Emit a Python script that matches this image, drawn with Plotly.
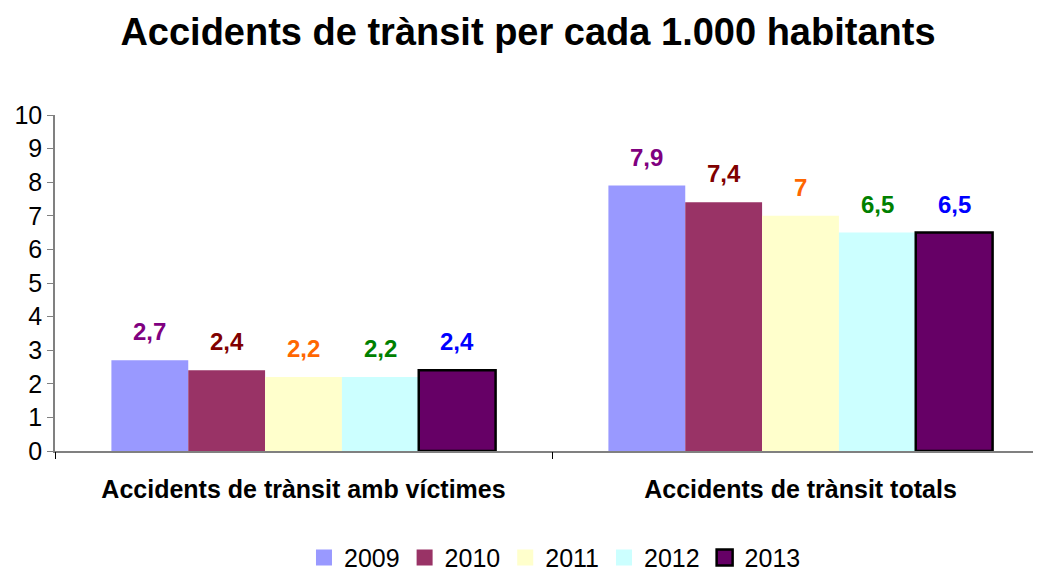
import plotly.graph_objects as go

categories = ["Accidents de trànsit amb víctimes", "Accidents de trànsit totals"]
years = ["2009", "2010", "2011", "2012", "2013"]
values = {
    "2009": [2.7, 7.9],
    "2010": [2.4, 7.4],
    "2011": [2.2, 7.0],
    "2012": [2.2, 6.5],
    "2013": [2.4, 6.5],
}
bar_colors = ["#9999FF", "#993366", "#FFFFCC", "#CCFFFF", "#660066"]
label_colors = ["#800080", "#800000", "#FF6600", "#008000", "#0000FF"]
title = "Accidents de trànsit per cada 1.000 habitants"
y_ticks = list(range(0, 11))

FONT = "Liberation Sans, Arial, sans-serif"
BARGAP = 0.227


def fmt(v):
    s = ("%.1f" % v).rstrip("0").rstrip(".")
    return s.replace(".", ",")


fig = go.Figure()
n = len(years)
w = (1 - BARGAP) / n
for i, yr in enumerate(years):
    vals = values[yr]
    fig.add_trace(go.Bar(
        name=yr,
        x=list(range(len(categories))),
        y=vals,
        marker=dict(color=bar_colors[i],
                    line=dict(color="#000000", width=2.5 if yr == "2013" else 0)),
        showlegend=False,
        hoverinfo="skip",
    ))
    # legend entry with a larger square symbol
    fig.add_trace(go.Scatter(
        name=yr, x=[None], y=[None], mode="markers",
        marker=dict(symbol="square", size=19, color=bar_colors[i],
                    line=dict(color="#000000", width=2.5 if yr == "2013" else 0)),
        showlegend=True, hoverinfo="skip",
    ))
    for j, v in enumerate(vals):
        fig.add_annotation(
            x=j + (i - (n - 1) / 2) * w, y=v, xref="x", yref="y",
            text="<b>" + fmt(v) + "</b>", showarrow=False,
            yanchor="bottom", yshift=13,
            font=dict(family=FONT, size=24, color=label_colors[i]),
        )

fig.update_layout(
    width=1041, height=573,
    margin=dict(l=47, r=0, t=107, b=130, autoexpand=False),
    paper_bgcolor="white", plot_bgcolor="white",
    barmode="group", bargap=BARGAP, bargroupgap=0,
    title=dict(text="<b>" + title + "</b>", x=0.4995, xanchor="center",
               y=0.958, yanchor="middle",
               font=dict(family=FONT, size=38, color="black")),
    font=dict(family=FONT, color="black"),
    legend=dict(orientation="h", x=0.503, xanchor="center", y=-0.318, yanchor="middle",
                font=dict(family=FONT, size=25, color="black"),
                itemwidth=30, traceorder="normal", tracegroupgap=0),
    showlegend=True,
)
fig.update_xaxes(
    range=[-0.5, 1.5],
    tickvals=list(range(len(categories))), ticktext=["<b>" + c + "</b>" for c in categories],
    showline=True, linecolor="#808080", linewidth=1.5,
    ticks="", showgrid=False, zeroline=False, automargin=False,
    tickfont=dict(family=FONT, size=25, color="black"),
    ticklabelstandoff=15,
)
# boundary ticks between categories
fig.update_layout(xaxis2=dict(
    overlaying="x", matches="x", side="bottom", anchor="y",
    tickvals=[-0.5, 0.5, 1.5], ticks="outside", ticklen=7, tickcolor="#000000",
    showticklabels=False, showline=False, showgrid=False, zeroline=False,
))
fig.add_trace(go.Scatter(x=[None], y=[None], xaxis="x2", showlegend=False, hoverinfo="skip"))
fig.update_yaxes(
    range=[0, 10], tickvals=y_ticks,
    showline=True, linecolor="#808080", linewidth=1.5,
    ticks="outside", ticklen=6, tickcolor="#808080",
    tickfont=dict(family=FONT, size=25, color="black"),
    showgrid=False, zeroline=False, automargin=False,
)

fig.write_html("out.html")
